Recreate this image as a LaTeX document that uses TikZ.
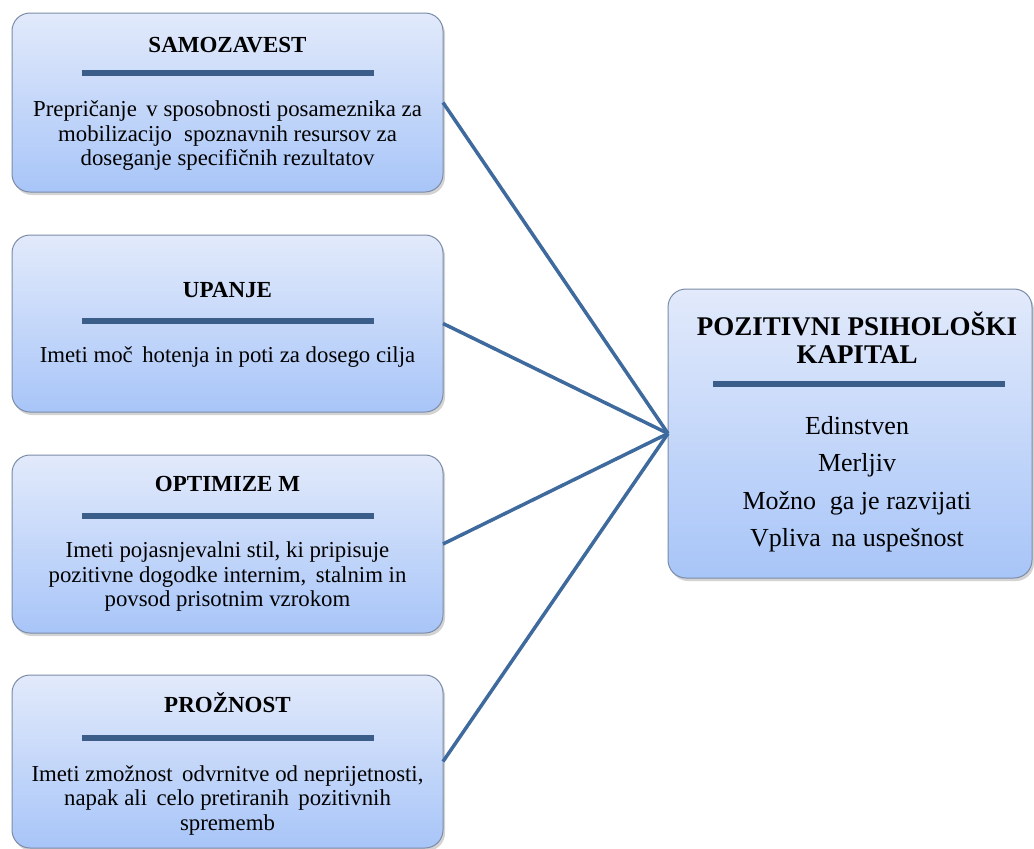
\documentclass[tikz,border=0pt]{standalone}
\usepackage{fontspec}
\setmainfont{Liberation Serif}
\usetikzlibrary{shadows}

\definecolor{boxtop}{HTML}{E2EAFB}
\definecolor{boxbottom}{HTML}{A8C5F8}
\definecolor{boxedge}{HTML}{7B8CA8}
\definecolor{linkblue}{HTML}{3E6A9D}
\definecolor{rulenavy}{HTML}{3A5D8A}

\tikzset{
  card/.style={draw=boxedge, line width=1pt, rounded corners=18pt,
    top color=boxtop, bottom color=boxbottom,
    drop shadow={opacity=0.35, shadow xshift=2pt, shadow yshift=-3pt},
    inner sep=0pt, outer sep=0pt},
  cardtitle/.style={font=\bfseries\fontsize{23}{26}\selectfont, inner sep=0pt},
  cardbody/.style={font=\fontsize{22.8}{24.5}\selectfont, align=center, inner sep=0pt},
  sepline/.style={draw=rulenavy, line width=6pt},
  link/.style={draw=linkblue, line width=3.5pt},
}

\begin{document}
\begin{tikzpicture}[x=1pt, y=-1pt]
\useasboundingbox (0,0) rectangle (1034,849);

% four trait cards on the left
\node[card, minimum width=431pt, minimum height=179pt] (samo) at (227.5,102.5) {};
\node[card, minimum width=431pt, minimum height=177pt] (upanje) at (227.5,323.5) {};
\node[card, minimum width=431pt, minimum height=178pt] (optim) at (227.5,544) {};
\node[card, minimum width=431pt, minimum height=173pt] (proz) at (227.5,761.5) {};

% summary card on the right
\node[card, minimum width=364pt, minimum height=289pt] (kapital) at (850,433.5) {};

% links from each trait to the summary card
\draw[link] (samo.east) -- (kapital.west);
\draw[link] (upanje.east) -- (kapital.west);
\draw[link] (optim.east) -- (kapital.west);
\draw[link] (proz.east) -- (kapital.west);

% card 1
\node[cardtitle] (samoT) at (227.5,45) {SAMOZAVEST};
\draw[sepline] (82,73) -- (374,73);
\node[cardbody] (samoB) at (227.5,136) {Prepričanje\, v sposobnosti posameznika za\\mobilizacijo\; spoznavnih resursov za\\doseganje specifičnih rezultatov};

% card 2
\node[cardtitle] (upanjeT) at (227.5,290) {UPANJE};
\draw[sepline] (82,321) -- (374,321);
\node[cardbody] (upanjeB) at (227.5,357) {Imeti moč\, hotenja in poti za dosego cilja};

% card 3
\node[cardtitle] (optimT) at (227.5,484) {OPTIMIZE M};
\draw[sepline] (82,516) -- (374,516);
\node[cardbody] (optimB) at (227.5,577) {Imeti pojasnjevalni stil, ki pripisuje\\pozitivne dogodke internim,\, stalnim in\\povsod prisotnim vzrokom};

% card 4
\node[cardtitle] (prozT) at (227.5,703) {PROŽNOST};
\draw[sepline] (82,738) -- (374,738);
\node[cardbody] (prozB) at (227.5,800) {Imeti zmožnost\, odvrnitve od neprijetnosti,\\napak ali\, celo pretiranih\, pozitivnih\\sprememb};

% summary card text
\node[font=\bfseries\fontsize{27}{28}\selectfont, align=center, inner sep=0pt] (kapitalT) at (857,338) {POZITIVNI PSIHOLOŠKI\\KAPITAL};
\draw[sepline] (713,384) -- (1005,384);
\node[font=\fontsize{26}{37.5}\selectfont, align=center, inner sep=0pt] (kapitalB) at (857,484) {Edinstven\\Merljiv\\Možno\; ga je razvijati\\Vpliva\, na uspešnost};
\end{tikzpicture}
\end{document}
